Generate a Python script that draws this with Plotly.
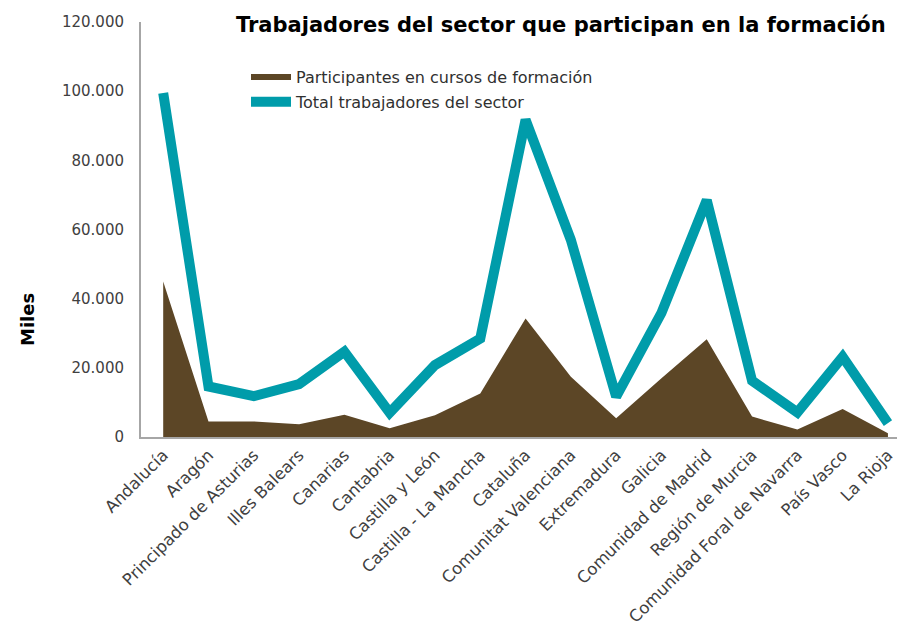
import plotly.graph_objects as go

regiones = ["Andalucía", "Aragón", "Principado de Asturias", "Illes Balears", "Canarias",
            "Cantabria", "Castilla y León", "Castilla - La Mancha", "Cataluña",
            "Comunitat Valenciana", "Extremadura", "Galicia", "Comunidad de Madrid",
            "Región de Murcia", "Comunidad Foral de Navarra", "País Vasco", "La Rioja"]
participantes = [45000, 4500, 4500, 3700, 6400, 2500, 6300, 12600, 34300,
                 17400, 5400, 17000, 28300, 5900, 2200, 8100, 1100]
total_trabajadores = [99500, 14600, 11800, 15300, 24700, 7000, 20800, 28500, 91700,
                      57000, 11700, 35900, 68500, 16300, 7100, 23200, 4000]
y_ticks = [0, 20000, 40000, 60000, 80000, 100000, 120000]

FONT = "DejaVu Sans"

fig = go.Figure()
fig.add_trace(go.Scatter(
    x=regiones, y=participantes, mode="none", fill="tozeroy",
    fillcolor="#5C4626", name="Participantes en cursos de formación",
    legendgroup="a"))
fig.add_trace(go.Scatter(
    x=regiones, y=total_trabajadores, mode="lines",
    line=dict(color="#009CAA", width=10),
    name="Total trabajadores del sector", legendgroup="b"))

fig.add_annotation(
    text="<b>Trabajadores del sector que participan en la formación</b>",
    xref="paper", yref="paper", x=(888-141)/756, y=(437-25)/415,
    xanchor="right", yanchor="middle", showarrow=False,
    font=dict(family=FONT, size=21, color="black"))
fig.add_annotation(
    text="<b>Miles</b>", textangle=-90,
    xref="paper", yref="paper", x=(27-141)/756, y=(437-320)/415,
    xanchor="center", yanchor="middle", showarrow=False,
    font=dict(family=FONT, size=18, color="black"))

fig.update_layout(
    width=897, height=630,
    paper_bgcolor="white", plot_bgcolor="white",
    margin=dict(l=141, r=0, t=22, b=193),
    separators=",.",
    font=dict(family=FONT, size=15, color="#404040"),
    legend=dict(x=(246-141)/756, y=(437-60)/415, xanchor="left", yanchor="top",
                bgcolor="rgba(0,0,0,0)", font=dict(size=16, color="#303030"),
                tracegroupgap=1, itemwidth=40, traceorder="grouped"),
    showlegend=True,
)
fig.update_xaxes(
    type="category", range=[-0.49, 16.2], tickangle=-45, automargin=False,
    showline=True, linecolor="#A6A6A6", linewidth=2,
    showgrid=False, ticks="", tickfont=dict(size=16.5, color="#404040"))
fig.update_yaxes(
    range=[0, 120000], tickvals=y_ticks, tickformat=",d", automargin=False,
    showline=True, linecolor="#A6A6A6", linewidth=2,
    showgrid=False, zeroline=False, ticks="", ticklabelstandoff=12,
    tickfont=dict(size=15, color="#404040"))

fig.write_html("out.html", config={"displayModeBar": False},
               post_script="document.body.style.margin='0';document.body.style.overflow='hidden';")
